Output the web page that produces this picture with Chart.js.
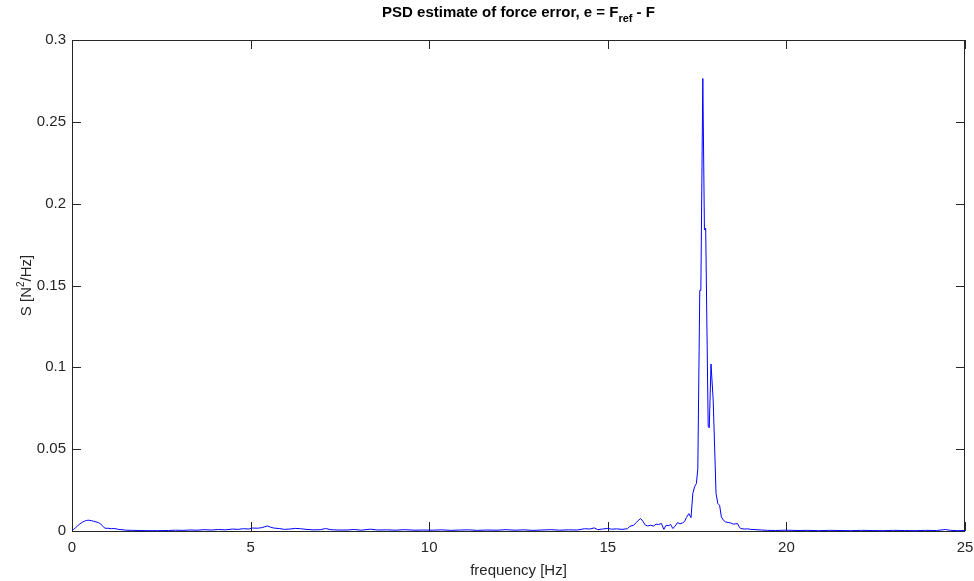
<!DOCTYPE html>
<html>
<head>
<meta charset="utf-8">
<title>PSD estimate</title>
<script src="https://cdn.jsdelivr.net/npm/chart.js@4.4.1/dist/chart.umd.min.js"></script>
<style>
  html, body { margin: 0; padding: 0; background: #fff; }
  #wrap { width: 974px; height: 581px; }
</style>
</head>
<body>
<div id="wrap"><canvas id="psdChart" width="974" height="581"></canvas></div>
<script>
// frequency [Hz] and PSD [N^2/Hz]
const freq = [
  0.00, 0.05, 0.10, 0.15, 0.20, 0.25, 0.30, 0.35, 0.40, 0.45,
  0.50, 0.55, 0.60, 0.65, 0.70, 0.75, 0.80, 0.85, 0.90, 0.95,
  1.00, 1.10, 1.20, 1.30, 1.40, 1.50, 1.70, 1.90, 2.10, 2.40,
  2.70, 2.90, 3.10, 3.30, 3.50, 3.70, 3.90, 4.10, 4.30, 4.50,
  4.65, 4.80, 4.95, 5.05, 5.20, 5.30, 5.40, 5.47, 5.55, 5.65,
  5.80, 5.95, 6.10, 6.25, 6.40, 6.55, 6.75, 6.95, 7.10, 7.25,
  7.45, 7.70, 7.90, 8.10, 8.35, 8.55, 8.80, 9.05, 9.30, 9.60,
  9.85, 10.10, 10.35, 10.60, 10.85, 11.10, 11.35, 11.60, 11.90, 12.15,
  12.40, 12.65, 12.90, 13.15, 13.40, 13.65, 13.90, 14.15, 14.35, 14.50,
  14.62, 14.72, 14.85, 15.00, 15.10, 15.25, 15.40, 15.55, 15.62, 15.72,
  15.80, 15.86, 15.92, 15.98, 16.05, 16.12, 16.20, 16.28, 16.35, 16.42,
  16.50, 16.57, 16.63, 16.71, 16.76, 16.82, 16.88, 16.95, 17.02, 17.09,
  17.15, 17.20, 17.27, 17.33, 17.38, 17.43, 17.48, 17.52, 17.575, 17.605,
  17.66, 17.705, 17.74, 17.81, 17.84, 17.89, 17.95, 18.03, 18.08, 18.13,
  18.18, 18.24, 18.30, 18.37, 18.44, 18.52, 18.58, 18.63, 18.68, 18.72,
  18.82, 18.92, 19.00, 19.15, 19.30, 19.47, 19.70, 20.00, 20.30, 20.60,
  20.90, 21.20, 21.50, 21.80, 22.10, 22.40, 22.70, 23.00, 23.30, 23.60,
  23.90, 24.20, 24.45, 24.60, 24.80, 25.00
];
const psd = [
  0.0003, 0.0010, 0.0020, 0.0030, 0.0040, 0.0048, 0.0055, 0.0060, 0.0064, 0.0066,
  0.0065, 0.0063, 0.0060, 0.0057, 0.0054, 0.0050, 0.0044, 0.0032, 0.0020, 0.0016,
  0.0017, 0.0014, 0.0015, 0.0010, 0.0008, 0.0005, 0.0004, 0.0003, 0.0002, 0.0002,
  0.0003, 0.0005, 0.0004, 0.0006, 0.0005, 0.0008, 0.0006, 0.0009, 0.0007, 0.0012,
  0.0010, 0.0014, 0.0012, 0.0018, 0.0017, 0.0020, 0.0026, 0.0031, 0.0024, 0.0018,
  0.0015, 0.0010, 0.0012, 0.0016, 0.0014, 0.0010, 0.0007, 0.0008, 0.0015, 0.0008,
  0.0006, 0.0006, 0.0009, 0.0005, 0.0011, 0.0006, 0.0007, 0.0005, 0.0008, 0.0005,
  0.0006, 0.0005, 0.0007, 0.0004, 0.0006, 0.0007, 0.0004, 0.0006, 0.0005, 0.0008,
  0.0005, 0.0007, 0.0004, 0.0006, 0.0008, 0.0005, 0.0007, 0.0006, 0.0014, 0.0012,
  0.0019, 0.0008, 0.0012, 0.0016, 0.0011, 0.0013, 0.0010, 0.0014, 0.0029, 0.0035,
  0.0052, 0.0066, 0.0076, 0.0060, 0.0036, 0.0031, 0.0035, 0.0030, 0.0042, 0.0040,
  0.0046, 0.0010, 0.0035, 0.0033, 0.0040, 0.0015, 0.0028, 0.0051, 0.0044, 0.0049,
  0.0058, 0.0082, 0.0106, 0.0082, 0.0230, 0.0270, 0.0290, 0.0380, 0.1470, 0.1470,
  0.2765, 0.1840, 0.1850, 0.0640, 0.0630, 0.1020, 0.0800, 0.0230, 0.0168, 0.0157,
  0.0086, 0.0065, 0.0055, 0.0052, 0.0049, 0.0042, 0.0044, 0.0045, 0.0025, 0.0015,
  0.0012, 0.0013, 0.0010, 0.0008, 0.0006, 0.0004, 0.0003, 0.0005, 0.0003, 0.0004,
  0.0002, 0.0004, 0.0003, 0.0002, 0.0004, 0.0003, 0.0002, 0.0004, 0.0003, 0.0002,
  0.0004, 0.0003, 0.0009, 0.0004, 0.0002, 0.0003
];

const xTicks = [0, 5, 10, 15, 20, 25];
const yTicks = [0, 0.05, 0.1, 0.15, 0.2, 0.25, 0.3];

const titleMain = 'PSD estimate of force error, e = F';
const titleSub = 'ref';
const titleEnd = ' - F';
const xLabel = 'frequency [Hz]';
const yLabelStart = 'S [N';
const yLabelSup = '2';
const yLabelEnd = '/Hz]';

const axisColor = '#262626';
const fontFamily = '"Liberation Sans", Arial, Helvetica, sans-serif';

// MATLAB-like box with inward ticks, plus title and axis labels
const matlabAxes = {
  id: 'matlabAxes',
  beforeDatasetsDraw(chart) {
    const { ctx, chartArea: a, scales } = chart;
    const tl = 9;
    ctx.save();
    ctx.strokeStyle = axisColor;
    ctx.lineWidth = 1;
    ctx.strokeRect(a.left + 0.5, a.top + 0.5, a.right - a.left - 1, a.bottom - a.top);
    ctx.beginPath();
    xTicks.forEach((t) => {
      const x = Math.round(scales.x.getPixelForValue(t)) + 0.5;
      ctx.moveTo(x, a.bottom);
      ctx.lineTo(x, a.bottom - tl);
      ctx.moveTo(x, a.top);
      ctx.lineTo(x, a.top + tl);
    });
    yTicks.forEach((t) => {
      const y = Math.round(scales.y.getPixelForValue(t)) + 0.5;
      ctx.moveTo(a.left, y);
      ctx.lineTo(a.left + tl, y);
      ctx.moveTo(a.right, y);
      ctx.lineTo(a.right - tl, y);
    });
    ctx.stroke();
    ctx.restore();
  },
  afterDraw(chart) {
    const { ctx, chartArea: a } = chart;
    const cx = (a.left + a.right) / 2;
    ctx.save();
    ctx.fillStyle = '#000';
    ctx.textBaseline = 'alphabetic';

    // title with subscript
    const big = 'bold 15px ' + fontFamily;
    const small = 'bold 11px ' + fontFamily;
    ctx.font = big;
    const w1 = ctx.measureText(titleMain).width;
    const w3 = ctx.measureText(titleEnd).width;
    ctx.font = small;
    const w2 = ctx.measureText(titleSub).width;
    let x = cx - (w1 + w2 + w3) / 2;
    ctx.textAlign = 'left';
    ctx.font = big;
    ctx.fillText(titleMain, x, 17);
    ctx.font = small;
    ctx.fillText(titleSub, x + w1, 22);
    ctx.font = big;
    ctx.fillText(titleEnd, x + w1 + w2, 17);

    // x label
    ctx.fillStyle = axisColor;
    ctx.font = '15px ' + fontFamily;
    ctx.textAlign = 'center';
    ctx.fillText(xLabel, cx, 575);

    // y label, rotated, with superscript
    const cy = (a.top + a.bottom) / 2;
    ctx.translate(31, cy);
    ctx.rotate(-Math.PI / 2);
    ctx.textAlign = 'left';
    const f = '15px ' + fontFamily;
    const fs = '10px ' + fontFamily;
    ctx.font = f;
    const s1 = ctx.measureText(yLabelStart).width;
    const s3 = ctx.measureText(yLabelEnd).width;
    ctx.font = fs;
    const s2 = ctx.measureText(yLabelSup).width;
    const sx = -(s1 + s2 + s3) / 2;
    ctx.font = f;
    ctx.fillText(yLabelStart, sx, 0);
    ctx.font = fs;
    ctx.fillText(yLabelSup, sx + s1, -7);
    ctx.font = f;
    ctx.fillText(yLabelEnd, sx + s1 + s2, 0);
    ctx.restore();
  }
};

const ctx = document.getElementById('psdChart').getContext('2d');
const chart = new Chart(ctx, {
  type: 'line',
  data: {
    datasets: [{
      label: 'PSD',
      data: freq.map((f, i) => ({ x: f, y: psd[i] })),
      borderColor: '#0000ff',
      borderWidth: 1,
      pointRadius: 0,
      tension: 0,
      fill: false,
      clip: 3,
    }],
  },
  options: {
    responsive: false,
    animation: false,
    devicePixelRatio: 1,
    layout: {
      padding: { top: 40, right: 9, bottom: 0, left: 0 },
    },
    plugins: {
      legend: { display: false },
      title: { display: false },
      tooltip: { enabled: false },
    },
    scales: {
      x: {
        type: 'linear',
        min: 0,
        max: 25,
        afterFit: (scale) => {
          scale.height = 50;
          scale.paddingLeft = 0;
          scale.paddingRight = 0;
        },
        afterBuildTicks: (scale) => { scale.ticks = xTicks.map((v) => ({ value: v })); },
        grid: { display: false, drawTicks: false },
        border: { display: false },
        ticks: {
          padding: 8,
          color: axisColor,
          font: { family: fontFamily, size: 15 },
          maxRotation: 0,
          callback: (v) => String(v),
        },
      },
      y: {
        type: 'linear',
        min: 0,
        max: 0.3,
        afterFit: (scale) => {
          scale.width = 72;
          scale.paddingTop = 0;
          scale.paddingBottom = 0;
        },
        afterBuildTicks: (scale) => { scale.ticks = yTicks.map((v) => ({ value: v })); },
        grid: { display: false, drawTicks: false },
        border: { display: false },
        ticks: {
          padding: 6,
          color: axisColor,
          font: { family: fontFamily, size: 15 },
          callback: (v) => String(Number(v.toFixed(2))),
        },
      },
    },
  },
  plugins: [matlabAxes],
});
</script>
</body>
</html>
